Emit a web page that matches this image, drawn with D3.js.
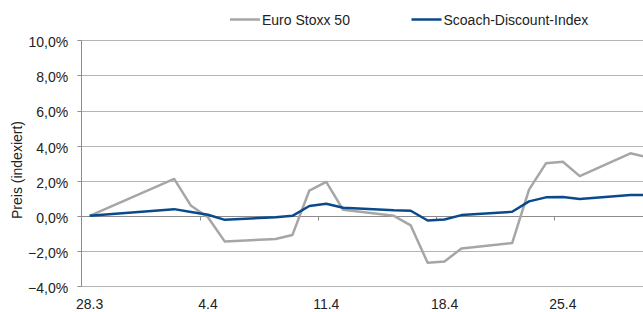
<!DOCTYPE html>
<html><head><meta charset="utf-8">
<script src="https://cdnjs.cloudflare.com/ajax/libs/d3/7.8.5/d3.min.js"></script>
<style>body{margin:0;background:#fff}svg{display:block;font-family:"Liberation Sans",Arial,sans-serif}</style>
</head><body><svg id="c" width="643" height="312"></svg>
<script>
const dates = ["2013-03-28","2013-04-02","2013-04-03","2013-04-04","2013-04-05","2013-04-08","2013-04-09","2013-04-10","2013-04-11","2013-04-12","2013-04-15","2013-04-16","2013-04-17","2013-04-18","2013-04-19","2013-04-22","2013-04-23","2013-04-24","2013-04-25","2013-04-26","2013-04-29","2013-04-30"];
const euroStoxx = [0, 2.1, 0.57, -0.08, -1.47, -1.32, -1.09, 1.44, 1.93, 0.34, 0.0, -0.55, -2.68, -2.6, -1.86, -1.55, 1.49, 2.99, 3.08, 2.26, 3.56, 3.33];
const scoach = [0, 0.38, 0.22, 0.06, -0.23, -0.08, 0.0, 0.56, 0.69, 0.46, 0.31, 0.29, -0.27, -0.21, 0.04, 0.23, 0.82, 1.05, 1.07, 0.96, 1.19, 1.19];
const yTicks = [-4, -2, 0, 2, 4, 6, 8, 10];
const xTickLabels = ["2013-03-28","2013-04-04","2013-04-11","2013-04-18","2013-04-25"];
const seriesNames = ["Euro Stoxx 50","Scoach-Discount-Index"];
const colors = ["#a6a6a6","#0a4a8c"];

const FS = 14;
const svg = d3.select("#c");
const parse = d3.timeParse("%Y-%m-%d");
const day0 = parse("2013-03-28");
const dayW = 16.9;
const x0 = 81.2;
const x = d3.scaleTime().domain([day0, d3.timeDay.offset(day0, 35)]).range([x0, x0 + dayW*35]);
const y = d3.scaleLinear().domain([-4, 10]).range([286, 40.3]);
const mid = d => d3.timeHour.offset(parse(d), 12);
const W = 643;
const px = v => Math.round(v) + 0.5;

// gridlines
svg.append("g").selectAll("line").data(yTicks).join("line")
  .attr("x1", px(x0)).attr("x2", W).attr("y1", d=>px(y(d))).attr("y2", d=>px(y(d)))
  .attr("stroke", "#b4b4b4").attr("stroke-width", 1);

// y axis
const yAxis = d3.axisLeft(y).tickValues(yTicks).tickSize(0).tickPadding(13)
  .tickFormat(d => d3.format(".1f")(d).replace(".", ",") + "%");
const gy = svg.append("g").attr("transform", `translate(${x0},0)`).call(yAxis);
gy.select(".domain").remove();
gy.selectAll("text").attr("font-size", FS).attr("fill", "#222").attr("dy", "0.46em")
  .attr("font-family", "Liberation Sans, Arial, sans-serif");
svg.append("line").attr("x1", px(x0)).attr("x2", px(x0)).attr("y1", px(y(10))).attr("y2", px(y(-4)))
  .attr("stroke", "#8c8c8c");
svg.append("g").selectAll("line").data(yTicks).join("line")
  .attr("x1", px(x0)-4).attr("x2", px(x0)).attr("y1", d=>px(y(d))).attr("y2", d=>px(y(d)))
  .attr("stroke", "#8c8c8c");

// x axis at zero with weekly tick marks
const weekTicks = d3.range(1, 6).map(i => d3.timeDay.offset(day0, 7*i));
const y0 = px(y(0));
svg.append("line").attr("x1", px(x0)).attr("x2", W).attr("y1", y0).attr("y2", y0).attr("stroke", "#8c8c8c");
svg.append("g").selectAll("line").data(weekTicks).join("line")
  .attr("x1", d=>px(x(d))).attr("x2", d=>px(x(d)))
  .attr("y1", y0).attr("y2", y0+4).attr("stroke", "#8c8c8c");
// x labels at bottom
svg.append("g").selectAll("text").data(xTickLabels).join("text")
  .attr("x", d=>x(mid(d))).attr("y", 309).attr("text-anchor", "middle")
  .attr("font-size", FS).attr("fill", "#222")
  .text(d => d3.timeFormat("%-d.%-m")(parse(d)));

// lines
const line = d3.line().x(d=>x(mid(d[0]))).y(d=>y(d[1]));
[euroStoxx, scoach].forEach((s, i) => {
  svg.append("path").datum(dates.map((d,j)=>[d, s[j]]))
    .attr("d", line).attr("fill", "none").attr("stroke", colors[i])
    .attr("stroke-width", 2.5).attr("stroke-linejoin", "round");
});

// y title
svg.append("text").attr("transform", "translate(22,170) rotate(-90)")
  .attr("text-anchor", "middle").attr("font-size", FS).attr("fill", "#222").text("Preis (indexiert)");

// legend
const leg = [{x:230, t:seriesNames[0], c:colors[0]}, {x:411.5, t:seriesNames[1], c:colors[1]}];
leg.forEach(l => {
  svg.append("line").attr("x1", l.x).attr("x2", l.x+30).attr("y1", 19.5).attr("y2", 19.5)
    .attr("stroke", l.c).attr("stroke-width", 2.5);
  svg.append("text").attr("x", l.x+32).attr("y", 24.5).attr("font-size", FS).attr("fill", "#222").text(l.t);
});
</script></body></html>
